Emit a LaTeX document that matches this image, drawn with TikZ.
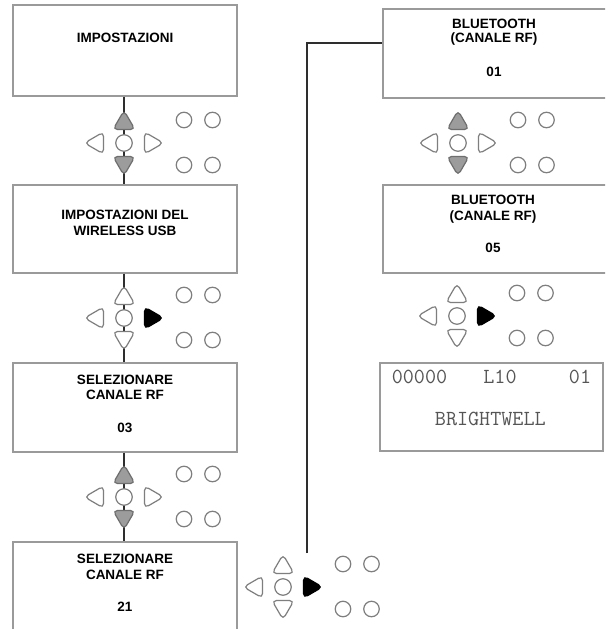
\documentclass[tikz,border=0pt]{standalone}
\usepackage{fontspec}
\setmainfont{Liberation Sans}
\usetikzlibrary{calc}
\definecolor{boxgray}{HTML}{9A9A9A}
\definecolor{keygray}{HTML}{7E7E7E}
\definecolor{keyfill}{HTML}{9C9C9C}
\definecolor{keyedge}{HTML}{6E6E6E}
\definecolor{lcdtext}{HTML}{555555}
\definecolor{connc}{HTML}{2E2E2E}
\tikzset{
  box/.style={draw=boxgray, line width=1.1pt, inner sep=0pt},
  lbl/.style={font=\bfseries\fontsize{13.5}{16}\selectfont, inner sep=0pt, text height=9.7pt, text depth=0pt},
  lcd/.style={font=\ttfamily\fontsize{21.5}{22}\selectfont, text=lcdtext, inner sep=0pt, text height=13pt, text depth=0pt},
  conn/.style={draw=connc, line width=1.6pt},
  kcirc/.style={circle, draw=keygray, fill=white, line width=1.2pt, minimum size=16.5pt, inner sep=0pt},
  scirc/.style={circle, draw=keygray, fill=white, line width=1.2pt, minimum size=15.5pt, inner sep=0pt},
  kout/.style={draw=keygray, fill=white, line width=1.2pt},
  kgray/.style={draw=keyedge, fill=keyfill, line width=1.2pt},
  kblack/.style={draw=black, fill=black, line width=1.2pt},
  pics/tup/.style={code={\path[pic actions, rounded corners=4.5pt] (0,-10.5) -- (11,8.5) -- (-11,8.5) -- cycle;}},
  pics/tdown/.style={code={\path[pic actions, rounded corners=4.5pt] (0,10.5) -- (11,-8.5) -- (-11,-8.5) -- cycle;}},
  pics/tleft/.style={code={\path[pic actions, rounded corners=4.5pt] (-10.5,0) -- (8.5,-11) -- (8.5,11) -- cycle;}},
  pics/tright/.style={code={\path[pic actions, rounded corners=4.5pt] (10.5,0) -- (-8.5,-11) -- (-8.5,11) -- cycle;}},
}
% #1 name, #2 x, #3 y, #4 up style, #5 down style, #6 right style
\newcommand{\kpad}[6]{%
  \node[kcirc] (#1) at (#2,#3) {};
  \pic[#4] at (#2,#3-22) {tup};
  \pic[#5] at (#2,#3+22) {tdown};
  \pic[kout] at (#2-29,#3) {tleft};
  \pic[#6] at (#2+29,#3) {tright};
  \node[scirc] (#1a) at (#2+60,#3-23) {};
  \node[scirc] (#1b) at (#2+88.5,#3-23) {};
  \node[scirc] (#1c) at (#2+60,#3+22) {};
  \node[scirc] (#1d) at (#2+88.5,#3+22) {};
}
\begin{document}
\begin{tikzpicture}[x=1pt,y=-1pt]
\clip (0,0) rectangle (605,629);
\fill[white] (0,0) rectangle (605,629);
% boxes
\node[box, minimum width=224pt, minimum height=91pt] (B1) at (125,50.5) {};
\node[box, minimum width=224pt, minimum height=88pt] (B2) at (125,229) {};
\node[box, minimum width=224pt, minimum height=89pt] (B3) at (125,407.5) {};
\node[box, minimum width=224pt, minimum height=89pt] (B4) at (125,586.5) {};
\node[box, minimum width=224pt, minimum height=89pt] (B5) at (495,53.5) {};
\node[box, minimum width=224pt, minimum height=88pt] (B6) at (495,229) {};
\node[box, minimum width=223pt, minimum height=88pt] (B7) at (491.5,407) {};
% keypad centre references for connectors
\coordinate (k1) at (124,143);
\coordinate (k2) at (124,318);
\coordinate (k3) at (124,497);
\coordinate (c4) at (307,553);
\coordinate (h5) at (0,43);
% connectors
\draw[conn] (B1.south -| k1) -- (B2.north -| k1);
\draw[conn] (B2.south -| k2) -- (B3.north -| k2);
\draw[conn] (B3.south -| k3) -- (B4.north -| k3);
\draw[conn] (c4) |- (B5.west |- h5);
% keypads
\kpad{K1}{124}{143}{kgray}{kgray}{kout}
\kpad{K2}{124}{318}{kout}{kout}{kblack}
\kpad{K3}{124}{497}{kgray}{kgray}{kout}
\kpad{K4}{283}{587}{kout}{kout}{kblack}
\kpad{K5}{458}{143}{kgray}{kgray}{kout}
\kpad{K6}{457}{316}{kout}{kout}{kblack}
% texts
\node[lbl] (t1) at (125,37.5) {IMPOSTAZIONI};
\node[lbl] (t2a) at (125,214.3) {IMPOSTAZIONI DEL};
\node[lbl] (t2b) at (125,230.5) {WIRELESS USB};
\node[lbl] (t3a) at (125,379.5) {SELEZIONARE};
\node[lbl] (t3b) at (125,395) {CANALE RF};
\node[lbl] (t3c) at (125,427.5) {03};
\node[lbl] (t4a) at (125,558.3) {SELEZIONARE};
\node[lbl] (t4b) at (125,574.2) {CANALE RF};
\node[lbl] (t4c) at (125,606.7) {21};
\node[lbl] (t5a) at (494,23.5) {BLUETOOTH};
\node[lbl] (t5b) at (494,38) {(CANALE RF)};
\node[lbl] (t5c) at (494,72) {01};
\node[lbl] (t6a) at (493,200) {BLUETOOTH};
\node[lbl] (t6b) at (493,215.5) {(CANALE RF)};
\node[lbl] (t6c) at (493,247.7) {05};
\node[lcd] (l1) at (419.5,376.7) {00000};
\node[lcd] (l2) at (500,376.7) {L10};
\node[lcd] (l3) at (580,376.7) {01};
\node[lcd] (l4) at (490.3,418.8) {BRIGHTWELL};
\end{tikzpicture}
\end{document}
